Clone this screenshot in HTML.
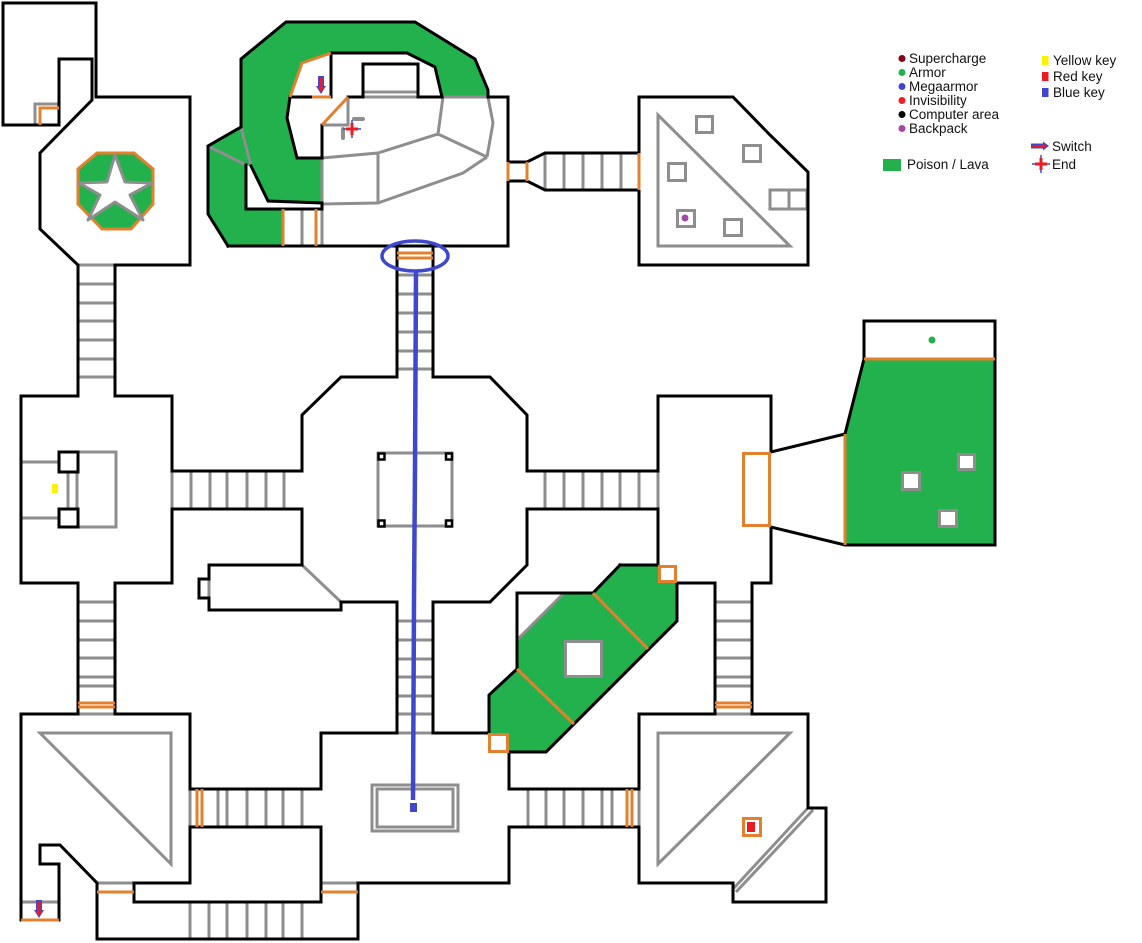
<!DOCTYPE html>
<html><head><meta charset="utf-8"><style>
html,body{margin:0;padding:0;background:#fff;}
svg{display:block}
.k{fill:none;stroke:#000;stroke-width:3;stroke-linejoin:miter;stroke-linecap:square}
.g{fill:none;stroke:#8e8e8e;stroke-width:3}
.o{fill:none;stroke:#e2802e;stroke-width:3}
text{font-family:"Liberation Sans",sans-serif;font-size:13.5px;fill:#111}
</style></head><body>
<svg width="1142" height="943" viewBox="0 0 1142 943" xmlns="http://www.w3.org/2000/svg">
<rect width="1142" height="943" fill="#fff"/>

<!-- green areas -->
<polygon fill="#22b14c" points="286,22 415,22 475,59 488,90 488,97 442,97 435,67 407,53 331,53 302,63 290,97 287,118 297,158 322,158 322,209 283,209 283,246 228,246 208,214 208,146 241,127 241,59"/>
<polygon fill="#fff" points="246,165 251,166 268,201 322,203 322,209 246,209"/>
<polygon fill="#22b14c" points="620,565 658,565 658,583 677,583 677,621 546,752 509,752 509,733 489,733 489,695 517,669 517,640 564,593 593,593"/>
<polygon fill="#22b14c" points="864,359 995,359 995,545 845,545 845,434"/>
<polygon fill="#22b14c" stroke="#e2802e" stroke-width="3" points="97,153 134,153 153,169 153,204 131,229 102,229 78,204 78,169"/>
<polygon fill="#fff" stroke="#8e8e8e" stroke-width="3" stroke-linejoin="round" points="115,155 125,182 152,183 130,195 143,220 115,202 88,220 100,195 79,183 107,182"/>

<!-- gray lines -->
<path class="g" d="M35 125V104H59 M78 265H115
M78 284H115 M78 303H115 M78 321H115 M78 340H115 M78 359H115 M78 377H115
M78 602H115 M78 621H115 M78 640H115 M78 658H115 M78 677H115 M78 686H115 M78 714H115
M715 602H752 M715 621H752 M715 640H752 M715 658H752 M715 677H752 M715 686H752 M715 714H752
M397 275H433 M397 294H433 M397 313H433 M397 332H433 M397 351H433 M397 369H433
M397 621H433 M397 640H433 M397 659H433 M397 677H433 M397 696H433 M397 714H433 M397 733H433
M172 471V509 M191 471V509 M210 471V509 M227 471V509 M247 471V509 M266 471V509 M284 471V509
M545 471V509 M564 471V509 M583 471V509 M602 471V509 M620 471V509 M639 471V509 M658 471V509
M545 153V190 M564 153V190 M583 153V190 M602 153V190 M621 153V190
M190 789V827 M218 789V827 M227 789V827 M247 789V827 M266 789V827 M283 789V827 M302 789V827
M190 902V939 M209 902V939 M227 902V939 M247 902V939 M266 902V939 M283 902V939 M302 902V939
M528 789V827 M546 789V827 M564 789V827 M583 789V827 M602 789V827 M612 789V827 M639 789V827
M241 127L251 166 M208 146L246 165 M348 97V125H322 M322 158L378 153L438 134L487 157 M438 134L443 97 M442 97H488 M488 97L493 123L487 157 M378 153V203 M322 204L378 203L463 173L487 157 M322 158V246 M302 209V246 M363 92H418 M363 97H418
M658 115V246H790Z
M209 579V598 M302 565L341 602
M78 452H116V527H78 M21 462H59 M21 518H59 M68 472V508 M77 472V508
M40 733H171V864Z M658 733H790L658 864Z
M733 889L807 809 M736 892L813 810
M21 902H59 M97 883H134 M321 883H358
M517 640L564 593
"/>
<path d="M354 119H363 M343 129V138" stroke="#8e8e8e" stroke-width="4" stroke-linecap="round"/>
<g class="g" fill="#fff" style="fill:#fff">
<rect x="696.5" y="116.5" width="16" height="16"/>
<rect x="743.5" y="145.5" width="17" height="16"/>
<rect x="668.5" y="163.5" width="17" height="17"/>
<rect x="677.5" y="210.5" width="17" height="16"/>
<rect x="724.5" y="219.5" width="17" height="16"/>
<rect x="770" y="190" width="19" height="19"/>
<rect x="789" y="190" width="18" height="19"/>
<rect x="958.5" y="454.5" width="16" height="15"/>
<rect x="902.5" y="472.5" width="17" height="17"/>
<rect x="939.5" y="510.5" width="17" height="16"/>
<rect x="565.5" y="641.5" width="36" height="35"/>
<rect x="378" y="453" width="74" height="73"/>
<rect x="372" y="785" width="86" height="46"/>
<rect x="377" y="789" width="76" height="38"/>
</g>

<!-- black walls -->
<path class="k" d="M59 125V59H92V100L40 153V229L78 265V396H21V583H78V714H21V920"/>
<path class="k" d="M59 125H3V3H96V97H190V265H115V396H172V471H302V415L341 377H397V246"/>
<path class="k" d="M172 509V583H115V714H190V789H321V733H397V602H341V610H209V598H199V579H209V565H302V509Z"/>
<path class="k" d="M489 733H433V602H490L527 565V509H658V565"/>
<path class="k" d="M677 583H715V714H639V789H509V753"/>
<path class="k" d="M433 246V377H490L527 415V471H658V396H771V452L845 434L864 359V321H995V545H845L771 527V583H752V714H808V808H826V902H733V883H639V827H509V883H358V939H97V883L60 845H40V864H59V920"/>
<path class="k" d="M190 827H321V902H134V883H190Z"/>
<path class="k" d="M228 246H508V181H527L545 190H639V265H808V172L770 135L733 97H639V153H545L527 162H508V97H488V90L475 59L415 22H286L241 59V127L208 146V214L228 246"/>
<path class="k" d="M246 165V209H322V203L268 201L251 166"/>
<path class="k" d="M442 97L435 67L407 53H331 M290 97L287 118L297 158H322V125 M290 97H312 M331 97V53 M348 97H363V64H418V97H442"/>
<path class="k" d="M620 565H658 M677 583V621L546 752H509 M489 733V695L517 669V593H593L620 565"/>
<rect x="59" y="452" width="19" height="20" fill="none" stroke="#000" stroke-width="3"/>
<rect x="59" y="509" width="19" height="18" fill="none" stroke="#000" stroke-width="3"/>
<g fill="#fff" stroke="#000" stroke-width="2.5">
<rect x="378.5" y="453.5" width="6" height="6"/>
<rect x="446" y="453.5" width="6" height="6"/>
<rect x="378.5" y="520.5" width="6" height="6"/>
<rect x="446" y="520.5" width="6" height="6"/>
</g>

<!-- orange lines -->
<path class="o" d="M40 125V108H59
M78 703H115 M78 707H115 M715 703H752 M715 707H752
M397 253H433 M397 258H433
M197 789V827 M202 789V827 M627 789V827 M632 789V827
M331 53L302 63L290 97 M312 97H331 M348 97L322 125 M283 209V246 M316 209V246 M508 162V181 M527 162V181 M639 153V190
M845 434V545 M864 359H995
M593 593L648 649 M517 669L574 724
M21 920H59 M97 892H134 M321 892H358"/>
<g fill="#fff" stroke="#e2802e" stroke-width="3">
<rect x="659.5" y="566.5" width="16" height="15"/>
<rect x="489.5" y="734.5" width="18" height="17"/>
<rect x="743.5" y="818.5" width="17" height="17"/>
</g>
<rect x="743.5" y="453.5" width="26" height="72" fill="none" stroke="#e2802e" stroke-width="3"/>

<!-- items -->
<rect x="52" y="484" width="6" height="9" fill="#fff200"/>
<rect x="747" y="822" width="8" height="10" fill="#ed1c24"/>
<circle cx="685" cy="218" r="3.5" fill="#a349a4"/>
<circle cx="932" cy="340" r="3.5" fill="#22b14c"/>

<!-- switches / end -->
<polygon fill="#3f48cc" points="318,76 324,76 324,86 326,86 321,94 316,86 318,86"/>
<polygon fill="#ed1c24" points="319.5,77.5 322.5,77.5 322.5,87.5 324,87.5 321,92 318,87.5 319.5,87.5"/>
<g transform="translate(-282,824)">
<polygon fill="#3f48cc" points="318,76 324,76 324,86 326,86 321,94 316,86 318,86"/>
<polygon fill="#ed1c24" points="319.5,77.5 322.5,77.5 322.5,87.5 324,87.5 321,92 318,87.5 319.5,87.5"/>
</g>
<path d="M352 120V138M343 129H361" stroke="#3f48cc" stroke-width="1.5"/>
<path d="M352 123V135M346 129H358" stroke="#ed1c24" stroke-width="3"/>

<!-- blue key route -->
<ellipse cx="415" cy="256" rx="33" ry="15" fill="none" stroke="#3f48cc" stroke-width="3.5"/>
<polyline points="416,271 415,468 414,600 413,800" fill="none" stroke="#3f48cc" stroke-width="4.5"/>
<rect x="410" y="803" width="7" height="9" fill="#3f48cc"/>

<!-- legend -->
<circle cx="902" cy="58.5" r="3.5" fill="#880015"/>
<circle cx="902" cy="72.5" r="3.5" fill="#22b14c"/>
<circle cx="902" cy="86.5" r="3.5" fill="#3f48cc"/>
<circle cx="902" cy="100.5" r="3.5" fill="#ed1c24"/>
<circle cx="902" cy="114.5" r="3.5" fill="#000"/>
<circle cx="902" cy="128.5" r="3.5" fill="#a349a4"/>
<text x="909" y="63">Supercharge</text>
<text x="909" y="77">Armor</text>
<text x="909" y="91">Megaarmor</text>
<text x="909" y="105">Invisibility</text>
<text x="909" y="119">Computer area</text>
<text x="909" y="133">Backpack</text>
<rect x="1042" y="56" width="6.5" height="9" fill="#fff200"/>
<rect x="1042" y="72" width="6.5" height="9" fill="#ed1c24"/>
<rect x="1042" y="88" width="6.5" height="9" fill="#3f48cc"/>
<text x="1053" y="65">Yellow key</text>
<text x="1053" y="81">Red key</text>
<text x="1053" y="97">Blue key</text>
<polygon fill="#3f48cc" points="1031,143.5 1043,143.5 1043,141.5 1049,146 1043,150.5 1043,148.5 1031,148.5"/>
<polygon fill="#ed1c24" points="1032.5,145 1044,145 1044,143.8 1047,146 1044,148.2 1044,147 1032.5,147"/>
<text x="1052" y="151">Switch</text>
<path d="M1041 155V173M1032 164H1050" stroke="#3f48cc" stroke-width="1.5"/>
<path d="M1041 158V170M1035 164H1047" stroke="#ed1c24" stroke-width="3"/>
<text x="1052" y="169">End</text>
<rect x="883" y="159" width="18" height="12" fill="#22b14c"/>
<text x="907" y="169">Poison / Lava</text>
</svg>
</body></html>
